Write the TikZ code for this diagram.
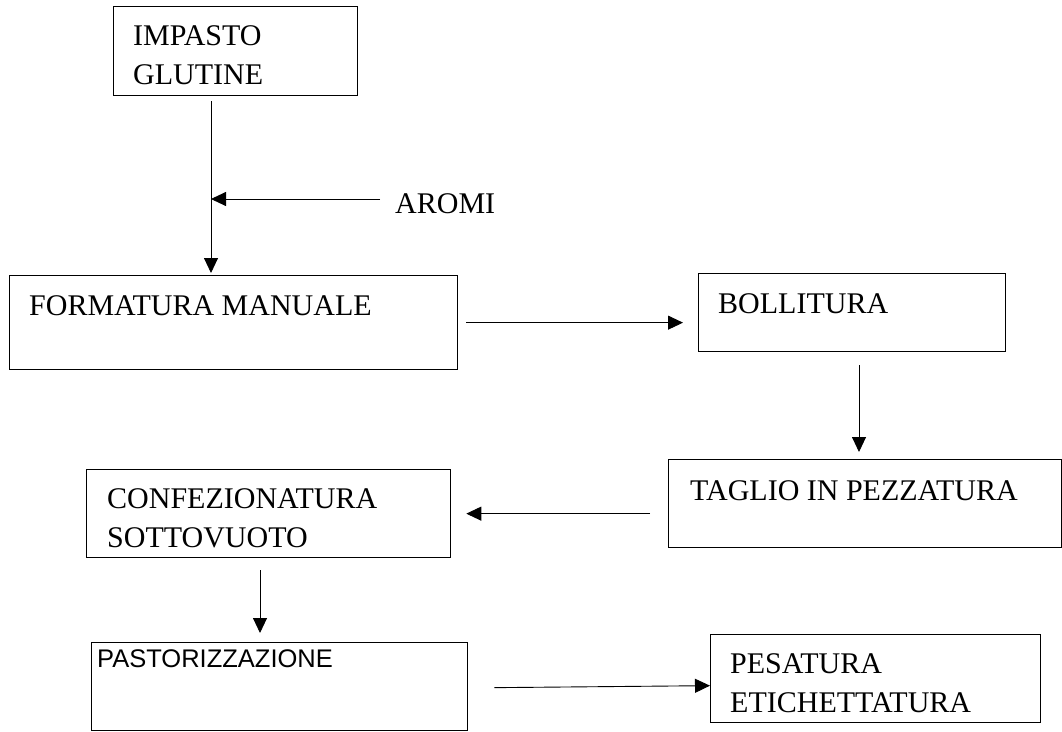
\documentclass[tikz,border=0pt]{standalone}
\usepackage{fontspec}
\setmainfont{Liberation Serif}
\newfontfamily\arialfont{Liberation Sans}
\usetikzlibrary{arrows.meta}
\begin{document}
\begin{tikzpicture}[x=1pt,y=-1pt,
  box/.style={draw, line width=1.3pt, inner sep=0pt, anchor=north west},
  txt/.style={font=\fontsize{30}{39}\selectfont, align=left, inner sep=0pt, anchor=north west},
  sanstxt/.style={font=\arialfont\fontsize{25.5}{30}\selectfont, inner sep=0pt, anchor=base west},
  arr/.style={line width=0.9pt, -{Triangle[length=15pt,width=14pt]}}]
\useasboundingbox (0,0) rectangle (1062,731);

% boxes
\node[box, minimum width=244pt, minimum height=89pt] (impasto) at (113,6) {};
\node[box, minimum width=448pt, minimum height=94pt] (formatura) at (9,275) {};
\node[box, minimum width=307pt, minimum height=78pt] (bollitura) at (698,273) {};
\node[box, minimum width=393pt, minimum height=88pt] (taglio) at (668,459) {};
\node[box, minimum width=364pt, minimum height=88pt] (confez) at (86,469) {};
\node[box, minimum width=376pt, minimum height=88pt] (pastor) at (91,642) {};
\node[box, minimum width=330pt, minimum height=88pt] (pesatura) at (710,634) {};

% texts
\node[txt] (impasto-t) at (133,25) {IMPASTO\\GLUTINE};
\node[txt, anchor=base west] (aromi) at (395,213) {AROMI};
\node[txt] (formatura-t) at (29,295) {FORMATURA MANUALE};
\node[txt] (bollitura-t) at (718,293) {BOLLITURA};
\node[txt] (taglio-t) at (690,480) {TAGLIO IN PEZZATURA};
\node[txt] (confez-t) at (107,488) {CONFEZIONATURA\\SOTTOVUOTO};
\node[sanstxt] (pastor-t) at (97,667) {PASTORIZZAZIONE};
\node[txt] (pesatura-t) at (730,653) {PESATURA\\ETICHETTATURA};

% connectors
\coordinate (aj) at (211,199);
\draw[arr] ([xshift=98pt,yshift=-5pt]impasto.south west) -- ([xshift=202pt,yshift=2pt]formatura.north west);
\draw[arr] ([xshift=-15pt,yshift=14pt]aromi.base west) -- (aj);
\draw[arr] ([xshift=8pt]formatura.east) -- ([xshift=-15pt]bollitura.west |- formatura.east);
\draw[arr] ([xshift=161pt,yshift=-13pt]bollitura.south west) -- ([xshift=191pt,yshift=7pt]taglio.north west);
\draw[arr] ([xshift=-18pt]taglio.west |- confez.east) -- ([xshift=15pt]confez.east);
\draw[arr] ([xshift=174pt,yshift=-12pt]confez.south west) -- ([xshift=169pt,yshift=9pt]pastor.north west);
\draw[arr] ([xshift=26pt,yshift=-1pt]pastor.east) -- ([yshift=-7pt]pesatura.west);
\end{tikzpicture}
\end{document}
